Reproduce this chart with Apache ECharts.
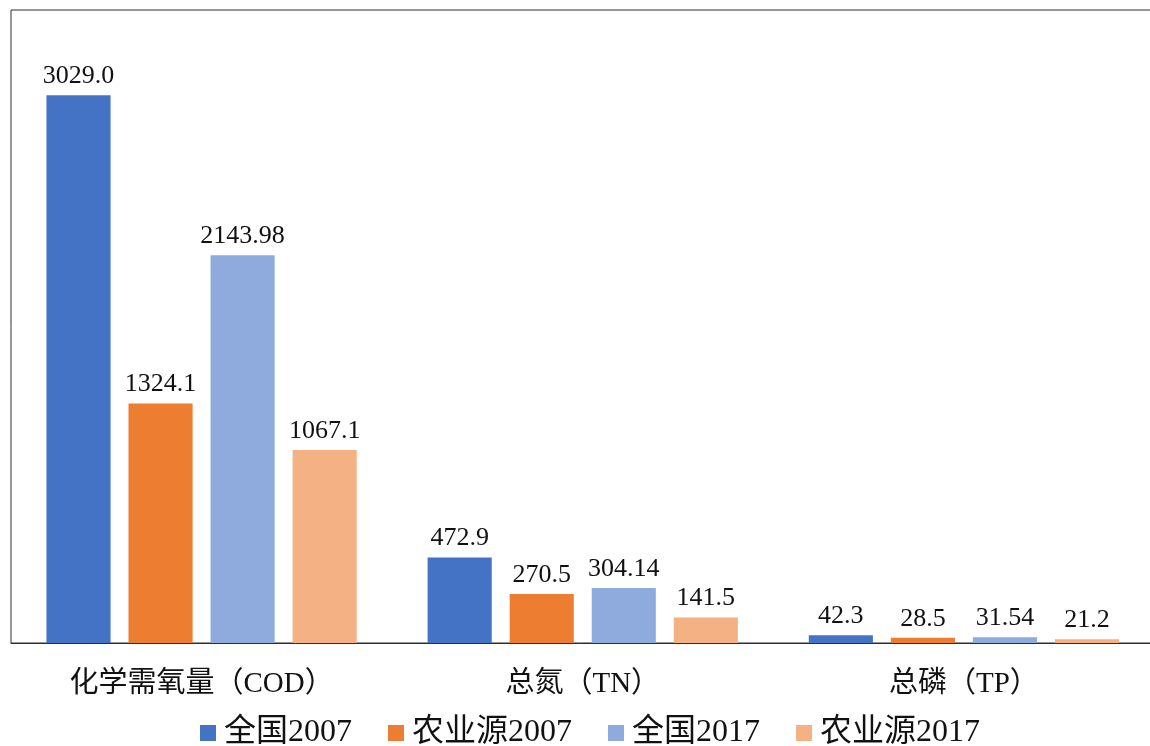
<!DOCTYPE html>
<html>
<head>
<meta charset="utf-8">
<script src="https://cdn.jsdelivr.net/npm/echarts@6/dist/echarts.min.js"></script>
<style>
html,body{margin:0;padding:0;background:#fff;}
#c{width:1150px;height:746px;}
</style>
</head>
<body>
<div id="c"></div>
<script>
const categories = ['化学需氧量（COD）', '总氮（TN）', '总磷（TP）'];
const seriesNames = ['全国2007', '农业源2007', '全国2017', '农业源2017'];
const national2007 = [3029.0, 472.9, 42.3];
const agri2007 = [1324.1, 270.5, 28.5];
const national2017 = [2143.98, 304.14, 31.54];
const agri2017 = [1067.1, 141.5, 21.2];
const colors = ['#4472C4', '#ED7D31', '#8FAADC', '#F4B183'];

const fontFam = "'Liberation Serif', 'Noto Sans CJK SC', serif";
const allData = [national2007, agri2007, national2017, agri2017];

const chart = echarts.init(document.getElementById('c'));
chart.setOption({
  animation: false,
  backgroundColor: '#fff',
  grid: {
    left: 11, top: 10, width: 1143.5, bottom: 103,
    outerBoundsMode: 'none', containLabel: false,
    show: true, borderColor: '#2e2e2e', borderWidth: 1, backgroundColor: 'transparent'
  },
  legend: {
    data: seriesNames,
    left: 195, top: 712,
    icon: 'rect', itemWidth: 16, itemHeight: 16, itemGap: 36,
    textStyle: { fontFamily: fontFam, fontSize: 32, color: '#111', padding: [0, 0, 0, 3] }
  },
  xAxis: {
    type: 'category',
    data: categories,
    axisLine: { lineStyle: { color: '#2e2e2e', width: 1 } },
    axisTick: { show: false },
    axisLabel: { fontFamily: fontFam, fontSize: 29, color: '#111', margin: 27 }
  },
  yAxis: {
    type: 'value', min: 0, max: 3500,
    show: false,
    splitLine: { show: false }
  },
  series: seriesNames.map((name, i) => ({
    name: name,
    type: 'bar',
    data: allData[i],
    itemStyle: { color: colors[i] },
    barGap: '28%',
    barCategoryGap: '18.6%',
    label: {
      show: true, position: 'top', distance: 6,
      fontFamily: fontFam, fontSize: 26, color: '#111',
      formatter: p => Number.isInteger(p.value) ? p.value.toFixed(1) : String(p.value)
    }
  }))
});
</script>
</body>
</html>
